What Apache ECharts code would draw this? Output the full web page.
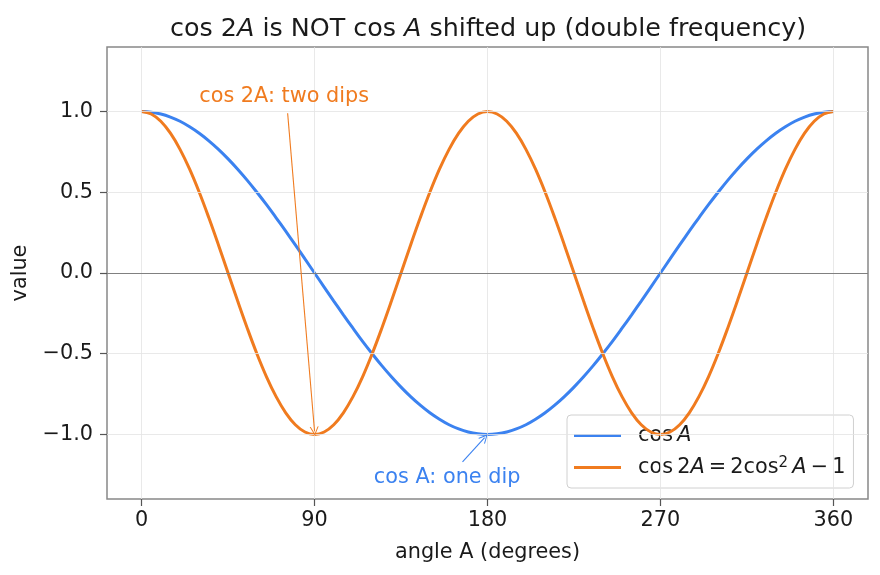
<!DOCTYPE html>
<html>
<head>
<meta charset="utf-8">
<title>cos 2A vs cos A</title>
<script src="https://cdn.jsdelivr.net/npm/echarts@6/dist/echarts.min.js"></script>
<style>
  html, body { margin: 0; padding: 0; background: #fff; }
  #main { width: 880px; height: 575px; }
</style>
</head>
<body>
<div id="main"></div>
<script>
// angles in degrees (5 degree steps)
var angles = [0,5,10,15,20,25,30,35,40,45,50,55,60,65,70,75,80,85,90,
  95,100,105,110,115,120,125,130,135,140,145,150,155,160,165,170,175,180,
  185,190,195,200,205,210,215,220,225,230,235,240,245,250,255,260,265,270,
  275,280,285,290,295,300,305,310,315,320,325,330,335,340,345,350,355,360];

var cosA = [1.000,0.996,0.985,0.966,0.940,0.906,0.866,0.819,0.766,0.707,0.643,0.574,0.500,0.423,0.342,0.259,0.174,0.087,0.000,
  -0.087,-0.174,-0.259,-0.342,-0.423,-0.500,-0.574,-0.643,-0.707,-0.766,-0.819,-0.866,-0.906,-0.940,-0.966,-0.985,-0.996,-1.000,
  -0.996,-0.985,-0.966,-0.940,-0.906,-0.866,-0.819,-0.766,-0.707,-0.643,-0.574,-0.500,-0.423,-0.342,-0.259,-0.174,-0.087,0.000,
  0.087,0.174,0.259,0.342,0.423,0.500,0.574,0.643,0.707,0.766,0.819,0.866,0.906,0.940,0.966,0.985,0.996,1.000];

var cos2A = [1.000,0.985,0.940,0.866,0.766,0.643,0.500,0.342,0.174,0.000,-0.174,-0.342,-0.500,-0.643,-0.766,-0.866,-0.940,-0.985,-1.000,
  -0.985,-0.940,-0.866,-0.766,-0.643,-0.500,-0.342,-0.174,0.000,0.174,0.342,0.500,0.643,0.766,0.866,0.940,0.985,1.000,
  0.985,0.940,0.866,0.766,0.643,0.500,0.342,0.174,0.000,-0.174,-0.342,-0.500,-0.643,-0.766,-0.866,-0.940,-0.985,-1.000,
  -0.985,-0.940,-0.866,-0.766,-0.643,-0.500,-0.342,-0.174,0.000,0.174,0.342,0.500,0.643,0.766,0.866,0.940,0.985,1.000];

var xTicks = [0, 90, 180, 270, 360];
var yTicks = [-1, -0.5, 0, 0.5, 1];

var BLUE = '#3b82f0';
var ORANGE = '#f07b1f';
var INK = '#1a1a1a';
var FONT = 'DejaVu Sans';
var FS = 20.8;
// open "->" style arrow head
var OPEN_ARROW = 'path://M0,10 L5,0 L10,10 L8.8,10 L5,2.4 L1.2,10 Z';
var LEGEND_LINE = 'path://M0,0 L47,0 L47,3 L0,3 Z';

function pairs(xs, ys) {
  var out = [];
  for (var i = 0; i < xs.length; i++) out.push([xs[i], ys[i]]);
  return out;
}

var chart = echarts.init(document.getElementById('main'));

var mathRich = {
  sp: { width: 12 },
  r: { fontFamily: FONT, fontSize: FS, color: INK },
  i: { fontFamily: FONT, fontSize: FS, fontStyle: 'italic', color: INK },
  s: { fontFamily: FONT, fontSize: 15, color: INK, verticalAlign: 'top', padding: [0, 0, 8, 0] }
};

var option = {
  animation: false,
  backgroundColor: '#fff',
  title: {
    text: '{r|cos 2}{i|A}{r| is NOT cos }{i|A}{r| shifted up (double frequency)}',
    left: 165,
    top: 12,
    textStyle: {
      rich: {
        r: { fontFamily: FONT, fontSize: 25.4, fontWeight: 'normal', color: INK },
        i: { fontFamily: FONT, fontSize: 25.4, fontWeight: 'normal', fontStyle: 'italic', color: INK }
      }
    }
  },
  grid: {
    left: 107, right: 12, top: 47, bottom: 76,
    show: true, borderColor: '#888', borderWidth: 1.5, backgroundColor: 'transparent'
  },
  legend: {
    orient: 'vertical',
    left: 567, top: 415,
    padding: [10, 8, 10, 7],
    itemGap: 10,
    itemWidth: 47,
    itemHeight: 22,
    backgroundColor: '#fff',
    borderColor: '#d0d0d0',
    borderWidth: 1,
    borderRadius: 4,
    data: [
      { name: 'cosA', icon: LEGEND_LINE },
      { name: 'cos2A', icon: LEGEND_LINE }
    ],
    formatter: function (name) {
      if (name === 'cosA') return '{sp|}{r|cos\u2009}{i|A}';
      return '{sp|}{r|cos\u20092}{i|A}{r|\u2009=\u20092cos}{s|2}{i|\u2009A}{r|\u2009\u2212\u20091}';
    },
    textStyle: { rich: mathRich }
  },
  xAxis: {
    type: 'value',
    min: -18, max: 378,
    name: 'angle A (degrees)',
    nameLocation: 'middle',
    nameGap: 43,
    nameTextStyle: { fontFamily: FONT, fontSize: FS, color: INK },
    axisLine: { show: false, onZero: false },
    axisTick: { show: true, customValues: xTicks, length: 7, lineStyle: { color: '#555', width: 1.2 } },
    axisLabel: { customValues: xTicks, fontFamily: FONT, fontSize: FS, color: INK, margin: 11 },
    splitLine: { show: false }
  },
  yAxis: {
    type: 'value',
    min: -1.4, max: 1.4,
    name: 'value',
    nameLocation: 'middle',
    nameGap: 61,
    nameTextStyle: { fontFamily: FONT, fontSize: FS, color: INK },
    axisLine: { show: false, onZero: false },
    axisTick: { show: true, customValues: yTicks, length: 7, lineStyle: { color: '#555', width: 1.2 } },
    axisLabel: {
      customValues: yTicks, fontFamily: FONT, fontSize: FS, color: INK, margin: 14,
      formatter: function (v) { return (v < 0 ? '\u2212' : '') + Math.abs(v).toFixed(1); }
    },
    splitLine: { show: false }
  },
  series: [
    {
      // grid lines drawn at the tick values
      name: 'grid',
      type: 'line',
      data: [],
      silent: true,
      z: 0,
      markLine: {
        silent: true,
        symbol: ['none', 'none'],
        label: { show: false },
        lineStyle: { color: '#e3e3e3', width: 0.8, type: 'solid' },
        data: xTicks.map(function (v) { return { xAxis: v }; })
          .concat(yTicks.map(function (v) { return { yAxis: v }; }))
      }
    },
    {
      name: 'zero',
      type: 'line',
      data: [],
      silent: true,
      z: 1,
      markLine: {
        silent: true,
        symbol: ['none', 'none'],
        label: { show: false },
        lineStyle: { color: '#808080', width: 1.2, type: 'solid' },
        data: [{ yAxis: 0 }]
      }
    },
    {
      name: 'cosA',
      type: 'line',
      data: pairs(angles, cosA),
      symbol: 'none',
      smooth: 0.4,
      color: BLUE,
      lineStyle: { color: BLUE, width: 3 },
      z: 3,
      markLine: {
        silent: true,
        symbol: ['none', OPEN_ARROW],
        symbolSize: [9, 9],
        label: { show: false },
        lineStyle: { color: BLUE, width: 1.1, type: 'solid' },
        data: [[{ coord: [167, -1.17] }, { coord: [178.5, -1.02] }]]
      },
      markPoint: {
        silent: true,
        symbol: 'circle',
        symbolSize: 0,
        data: [{
          coord: [159, -1.27],
          label: { show: true, position: 'inside', formatter: 'cos A: one dip', fontFamily: FONT, fontSize: FS, color: BLUE }
        }]
      }
    },
    {
      name: 'cos2A',
      type: 'line',
      data: pairs(angles, cos2A),
      symbol: 'none',
      smooth: 0.4,
      color: ORANGE,
      lineStyle: { color: ORANGE, width: 3 },
      z: 4,
      markLine: {
        silent: true,
        symbol: ['none', OPEN_ARROW],
        symbolSize: [9, 9],
        label: { show: false },
        lineStyle: { color: ORANGE, width: 1.1, type: 'solid' },
        data: [[{ coord: [76, 0.99] }, { coord: [90, -0.98] }]]
      },
      markPoint: {
        silent: true,
        symbol: 'circle',
        symbolSize: 0,
        data: [{
          coord: [30, 1.09],
          label: { show: true, position: 'right', distance: 0, formatter: 'cos 2A: two dips', fontFamily: FONT, fontSize: FS, color: ORANGE }
        }]
      }
    }
  ]
};

chart.setOption(option);
</script>
</body>
</html>
